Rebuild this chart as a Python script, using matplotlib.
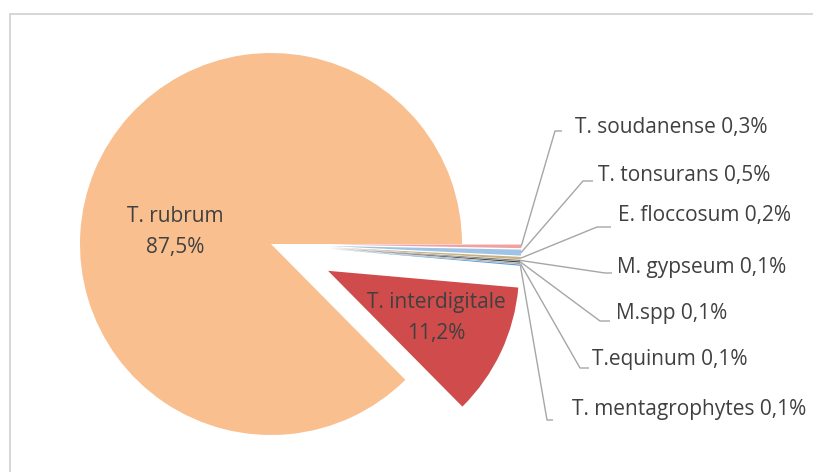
import numpy as np
import matplotlib.pyplot as plt
from matplotlib.patches import Rectangle

# slice data, listed clockwise starting with T. rubrum
species = ['T. rubrum', 'T. soudanense', 'T. tonsurans', 'E. floccosum', 'M. gypseum',
           'M.spp', 'T.equinum', 'T. mentagrophytes', 'T. interdigitale']
percent = [87.5, 0.3, 0.5, 0.2, 0.1, 0.1, 0.1, 0.1, 11.2]
pct_text = ['87,5%', '0,3%', '0,5%', '0,2%', '0,1%', '0,1%', '0,1%', '0,1%', '11,2%']
colors = ['#F9BF8F', '#F2A0A0', '#9DC3E6', '#C9B27C', '#7F7F7F',
          '#3F3F3F', '#A5A5A5', '#5B9BD5', '#D04B4B']
explode = [0, 0.31, 0.31, 0.31, 0.31, 0.31, 0.31, 0.31, 0.33]

W, H = 813, 472
CX, CY, R = 271, 244, 191   # pie centre / radius in pixels


def px(x, y):
    # pixel position (top-left origin) -> data units of the pie
    return (x - CX) / R, (CY - y) / R


plt.rcParams['font.family'] = ['Open Sans', 'DejaVu Sans']
txt_color = '#404040'
fs = 15

fig = plt.figure(figsize=(W / 100, H / 100), dpi=100)
ax = fig.add_axes([0, 0, 1, 1])
start = 360 * percent[0] / sum(percent)
wedges, _ = ax.pie(percent, colors=colors, explode=explode, startangle=start,
                   counterclock=False, radius=1, wedgeprops=dict(linewidth=0))
ax.set_aspect('equal')
x0, y1 = px(0, 0)
x1, y0 = px(W, H)
ax.set_xlim(x0, x1)
ax.set_ylim(y0, y1)
ax.axis('off')

# chart frame
fx, fy = px(9.5, 13.5)
ax.add_patch(Rectangle((fx, y0 - 1), x1 - fx + 1, fy - y0 + 1, fill=False,
                       edgecolor='#D0D0D0', lw=1.2, clip_on=False))

# labels inside the two big slices
tx, ty = px(175, 232)
ax.text(tx, ty, f'{species[0]}\n{pct_text[0]}', ha='center', va='center',
        fontsize=fs, color=txt_color, linespacing=1.6)
tx, ty = px(436, 318)
ax.text(tx, ty, f'{species[8]}\n{pct_text[8]}', ha='center', va='center',
        fontsize=fs, color=txt_color, linespacing=1.6)

# callout labels for the small slices: text left x, text y, line y, elbow x, line end x
callouts = [
    (575, 128, 131, 555, 562),
    (598, 176, 181, 583, 593),
    (618, 215, 227, 597, 611),
    (617, 268, 273, 605, 612),
    (616, 313, 321, 600, 610),
    (592, 360, 368, 580, 589),
    (572, 410, 420, 547, 553),
]
for i, (lx, ly, liney, ex, endx) in enumerate(callouts, start=1):
    w = wedges[i]
    th = np.deg2rad((w.theta1 + w.theta2) / 2)
    sx = w.center[0] + w.r * np.cos(th)
    sy = w.center[1] + w.r * np.sin(th)
    exd, eyd = px(ex, liney)
    endd, _ = px(endx, liney)
    ax.plot([sx, exd, endd], [sy, eyd, eyd], color='#A6A6A6', lw=1, solid_capstyle='butt')
    tx, ty = px(lx, ly)
    ax.text(tx, ty, f'{species[i]} {pct_text[i]}', ha='left', va='center',
            fontsize=fs, color=txt_color)

fig.savefig('out.png', dpi=100)
